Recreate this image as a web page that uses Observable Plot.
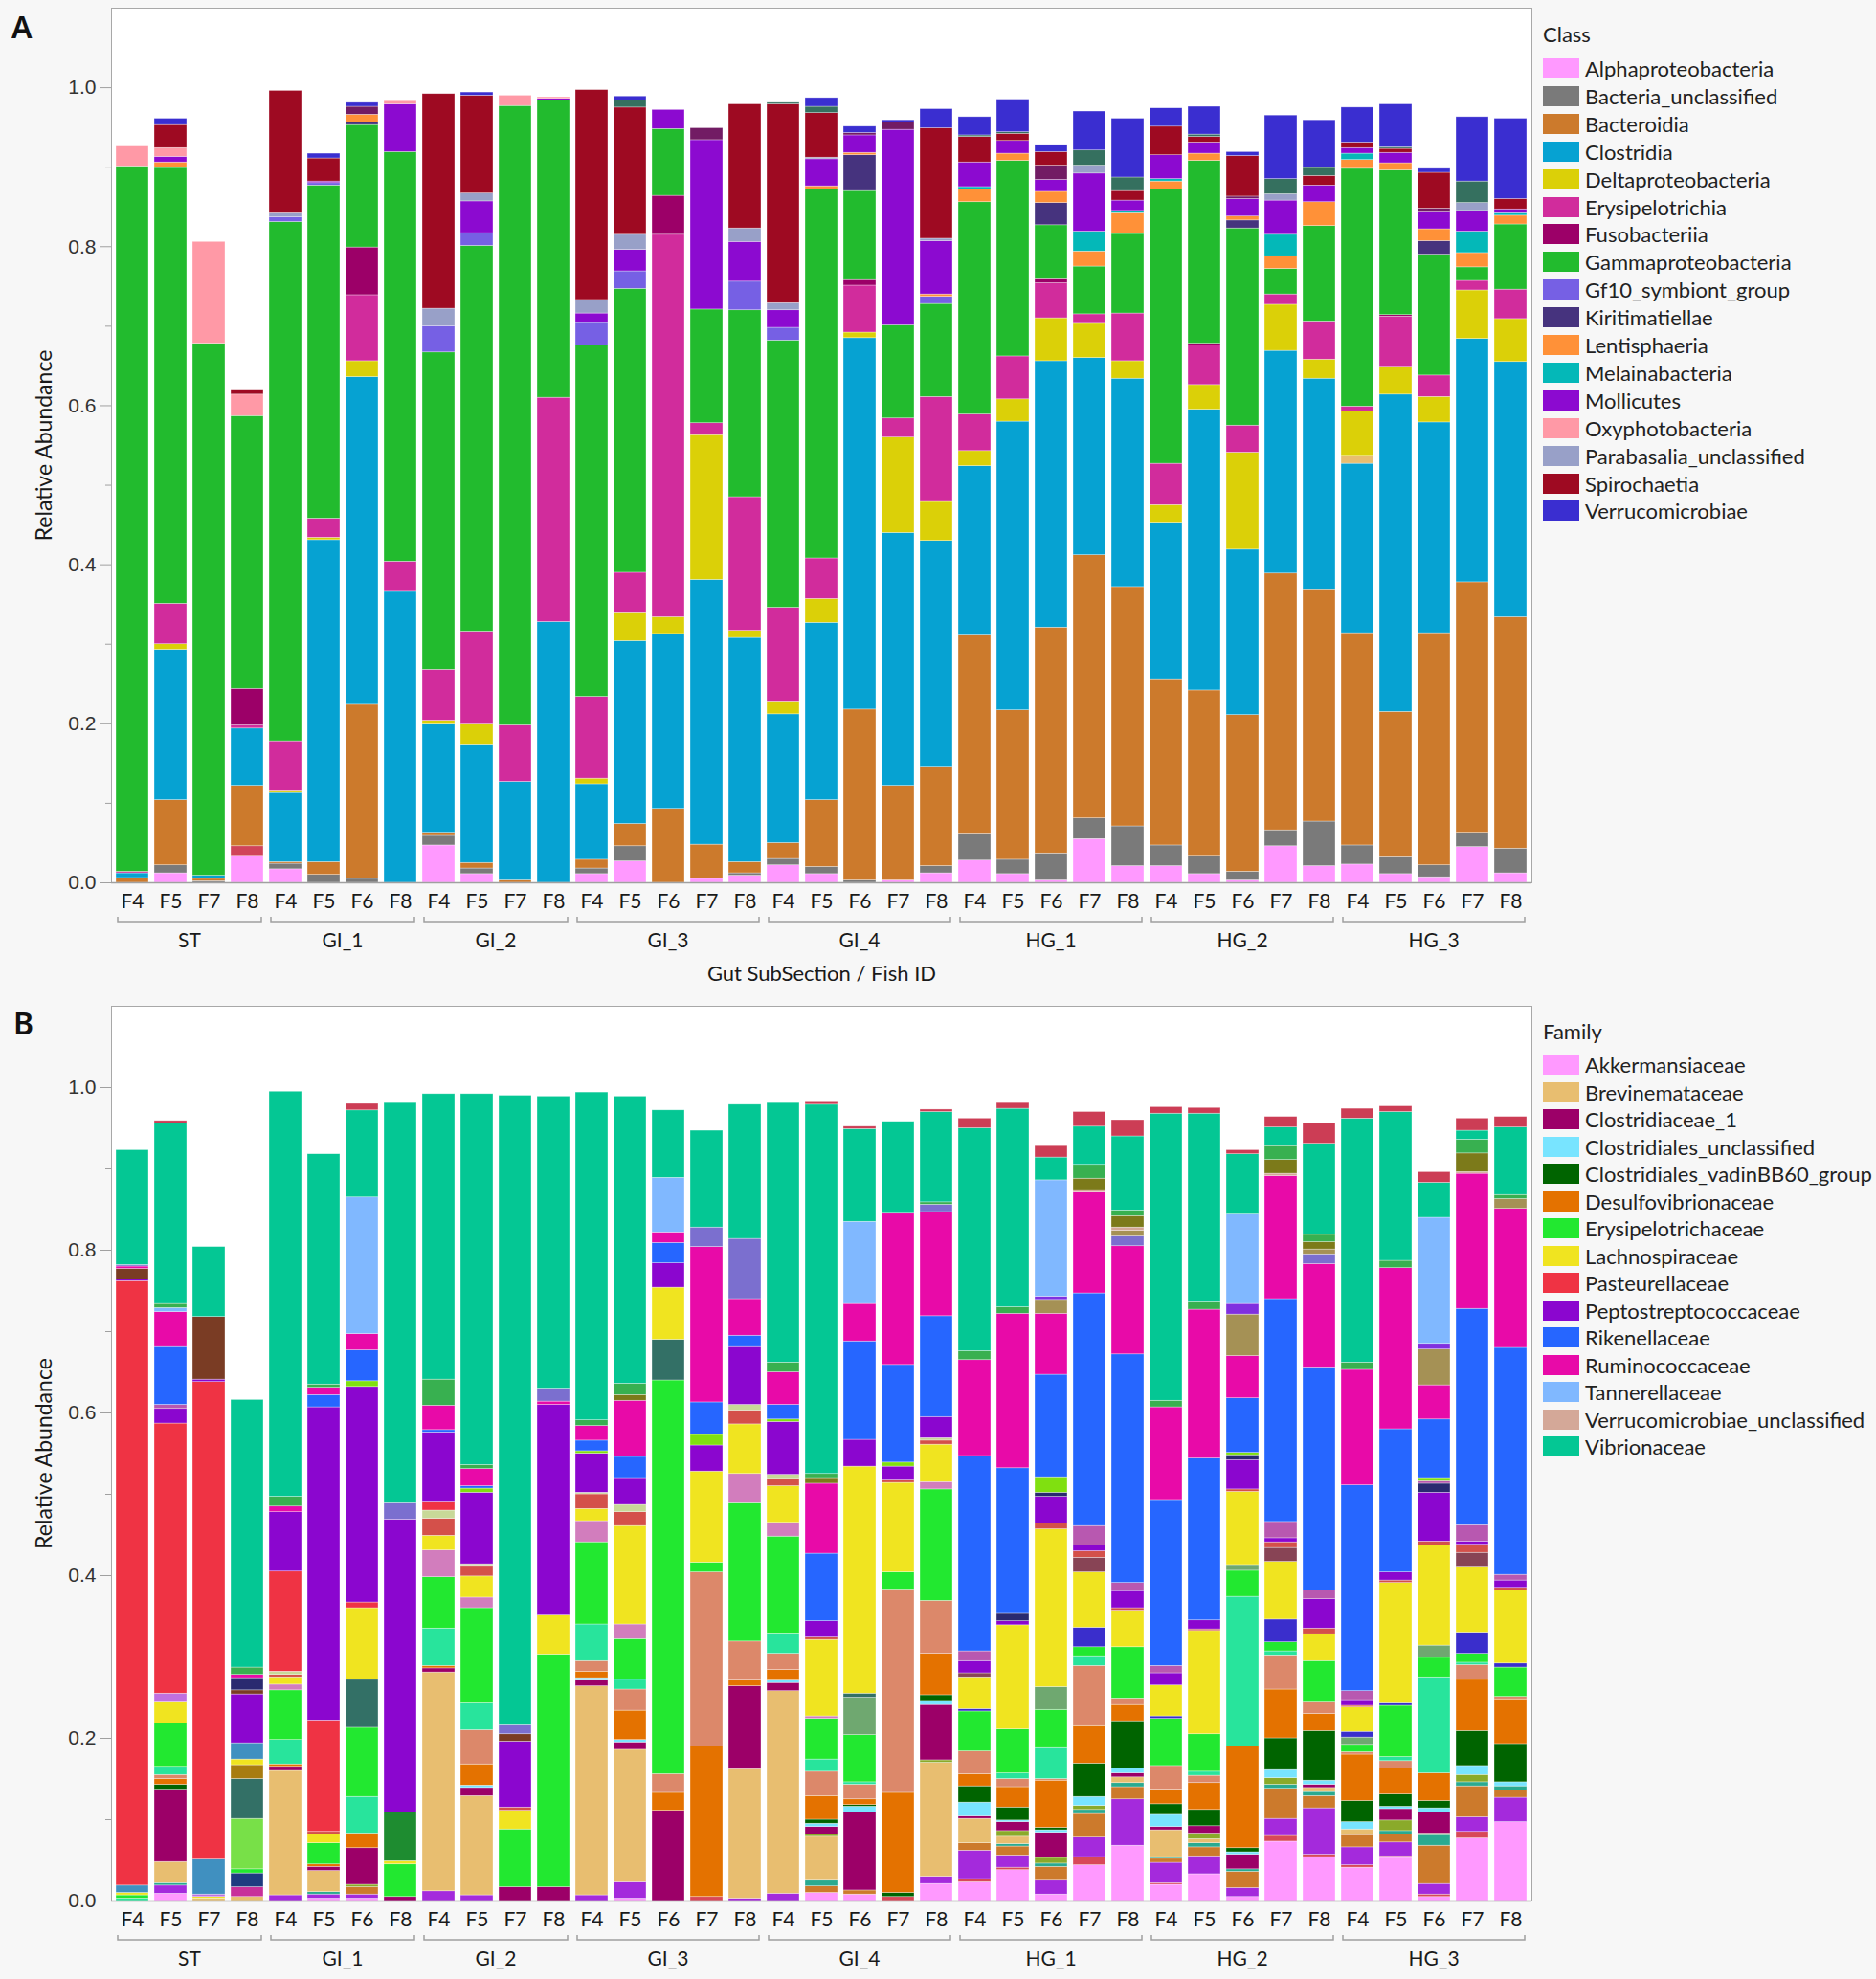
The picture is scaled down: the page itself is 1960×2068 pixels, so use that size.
<!DOCTYPE html>
<html>
<head>
<meta charset="utf-8">
<script src="https://cdn.jsdelivr.net/npm/d3@7"></script>
<script src="https://cdn.jsdelivr.net/npm/@observablehq/plot@0.6"></script>
<style>
  html, body { margin: 0; padding: 0; }
  body { width: 1960px; height: 2068px; background: #f7f7f7; position: relative; overflow: hidden; font-family: Lato, sans-serif; color: #1a1a1a; }
  .panel { position: absolute; left: 0; }
  .tag { position: absolute; font-family: "Noto Sans", sans-serif; font-weight: 600; font-size: 32px; line-height: 32px; color: #111; }
  .legend { position: absolute; left: 1612px; top: 0; }
  .ltitle { position: absolute; left: 0; font-size: 22px; line-height: 28px; white-space: nowrap; color: #222; }
  .lrow { position: absolute; left: 0; height: 28px; white-space: nowrap; }
  .lsw { position: absolute; left: 0; top: 3px; width: 38px; height: 21px; }
  .ltx { position: absolute; left: 44px; top: 0; font-size: 22px; line-height: 28px; color: #222; }
</style>
</head>
<body>
<div class="tag" style="left:12px;top:12px">A</div>
<div class="tag" style="left:14px;top:1053px">B</div>
<div id="plotA" class="panel" style="top:0px"></div>
<div id="plotB" class="panel" style="top:1040px"></div>
<div id="legA" class="legend"></div>
<div id="legB" class="legend"></div>
<script>
// ---------------- shared ----------------
const groupNames = ["ST", "GI_1", "GI_2", "GI_3", "GI_4", "HG_1", "HG_2", "HG_3"];
const yTicks = [0, 0.2, 0.4, 0.6, 0.8, 1.0];
const yMinorTicks = [0.1, 0.3, 0.5, 0.7, 0.9];
const yTitle = "Relative Abundance";
const xTitle = "Gut SubSection / Fish ID";
const labelFont = "Lato";

// ---------------- Panel A : Class ----------------
const classCodes = ["al","bi","bu","bd","cl","bm","de","er","fu","ga","gf","ki","le","me","mo","ox","pb","pl","sp","th","ve"];
const classNames = ["Alphaproteobacteria","Bacilli","Bacteria_unclassified","Bacteroidia","Clostridia","Brevinematae","Deltaproteobacteria","Erysipelotrichia","Fusobacteriia","Gammaproteobacteria","Gf10_symbiont_group","Kiritimatiellae","Lentisphaeria","Melainabacteria","Mollicutes","Oxyphotobacteria","Parabasalia_unclassified","Planctomycetacia","Spirochaetia","Thermoplasmata","Verrucomicrobiae"];
const classColors = ["#ff99ff","#d0445a","#7a7a7a","#cc7a2c","#06a2d2","#e8be70","#dbd008","#d12c9c","#9c0068","#22bb2e","#7660e4","#46337e","#ff9138","#04b8b8","#8c0ad0","#ff99a6","#98a0c8","#721c64","#9e0a22","#35705f","#3a2ed0"];
const classLegend = ["Alphaproteobacteria","Bacteria_unclassified","Bacteroidia","Clostridia","Deltaproteobacteria","Erysipelotrichia","Fusobacteriia","Gammaproteobacteria","Gf10_symbiont_group","Kiritimatiellae","Lentisphaeria","Melainabacteria","Mollicutes","Oxyphotobacteria","Parabasalia_unclassified","Spirochaetia","Verrucomicrobiae"];

const classST = [
  {fish:"F4", bd:.006, cl:.006, er:.002, ga:.887, ox:.025},
  {fish:"F5", al:.012, bu:.010, bd:.082, cl:.189, de:.007, er:.051, ga:.548, le:.007, mo:.007, ox:.011, sp:.029, ve:.008},
  {fish:"F7", bu:.002, bd:.003, cl:.004, ga:.669, ox:.128},
  {fish:"F8", al:.034, bi:.012, bd:.076, cl:.072, er:.004, fu:.046, ga:.343, ox:.027, sp:.005}
];
const classGI1 = [
  {fish:"F4", al:.017, bu:.007, bd:.002, cl:.087, de:.002, er:.063, ga:.653, gf:.006, pb:.005, sp:.154},
  {fish:"F5", bu:.010, bd:.016, cl:.405, de:.003, er:.024, ga:.419, gf:.003, mo:.002, sp:.029, ve:.006},
  {fish:"F6", bu:.005, bd:.219, cl:.412, de:.020, er:.083, fu:.060, ga:.154, ki:.003, le:.010, pl:.010, ve:.005},
  {fish:"F8", cl:.366, er:.038, ga:.515, mo:.060, ox:.004}
];
const classGI2 = [
  {fish:"F4", al:.047, bu:.012, bd:.004, cl:.136, de:.005, er:.064, ga:.399, gf:.033, pb:.022, sp:.270},
  {fish:"F5", al:.011, bu:.007, bd:.007, cl:.149, de:.025, er:.117, ga:.485, gf:.016, mo:.040, pb:.010, sp:.123, ve:.004},
  {fish:"F7", bd:.003, cl:.124, er:.071, ga:.779, ox:.013},
  {fish:"F8", cl:.328, er:.282, ga:.374, mo:.002, ox:.002}
];
const classGI3 = [
  {fish:"F4", al:.011, bu:.007, bd:.011, cl:.095, de:.007, er:.103, ga:.442, gf:.028, mo:.012, pb:.017, sp:.264},
  {fish:"F5", al:.027, bu:.019, bd:.028, cl:.230, de:.035, er:.051, ga:.357, gf:.022, mo:.027, pb:.019, sp:.160, th:.009, ve:.005},
  {fish:"F6", bd:.093, cl:.220, de:.021, er:.481, fu:.049, ga:.084, mo:.024},
  {fish:"F7", al:.005, bd:.043, cl:.333, de:.182, er:.015, ga:.143, mo:.213, pl:.015},
  {fish:"F8", al:.009, bu:.003, bd:.014, cl:.282, de:.009, er:.168, ga:.235, gf:.036, mo:.050, pb:.017, sp:.156}
];
const classGI4 = [
  {fish:"F4", al:.022, bu:.008, bd:.020, cl:.162, de:.015, er:.119, ga:.336, gf:.016, mo:.022, pb:.009, sp:.250, th:.002},
  {fish:"F5", al:.011, bu:.009, bd:.084, cl:.223, de:.030, er:.051, ga:.464, le:.004, mo:.034, pb:.002, sp:.056, th:.008, ve:.011},
  {fish:"F6", bu:.003, bd:.215, cl:.467, de:.007, er:.059, fu:.007, ga:.112, ki:.045, le:.003, mo:.022, pl:.003, ve:.008},
  {fish:"F7", al:.003, bd:.119, cl:.318, de:.120, er:.024, ga:.117, mo:.246, pl:.009, ve:.003},
  {fish:"F8", al:.012, bu:.009, bd:.125, cl:.284, de:.049, er:.132, ga:.117, gf:.009, le:.003, mo:.067, pb:.003, sp:.139, ve:.024}
];
const classHG1 = [
  {fish:"F4", al:.028, bu:.034, bd:.249, cl:.213, de:.019, er:.046, ga:.267, le:.016, me:.003, mo:.031, sp:.032, th:.002, ve:.023},
  {fish:"F5", al:.011, bu:.018, bd:.188, cl:.363, de:.028, er:.054, ga:.246, le:.009, mo:.016, sp:.009, th:.002, ve:.041},
  {fish:"F6", al:.003, bu:.034, bd:.284, cl:.335, de:.054, er:.044, fu:.005, ga:.068, ki:.028, le:.014, mo:.015, pl:.018, sp:.017, ve:.009},
  {fish:"F7", al:.055, bu:.026, bd:.331, cl:.248, de:.043, er:.012, ga:.060, le:.019, me:.025, mo:.073, pb:.010, th:.019, ve:.049},
  {fish:"F8", al:.021, bu:.050, bd:.301, cl:.262, de:.022, er:.060, ga:.100, le:.026, me:.003, mo:.013, sp:.012, th:.017, ve:.074}
];
const classHG2 = [
  {fish:"F4", al:.021, bu:.026, bd:.208, cl:.198, de:.022, er:.052, ga:.345, le:.010, me:.003, mo:.030, sp:.036, ve:.023},
  {fish:"F5", al:.011, bu:.023, bd:.208, cl:.353, de:.031, er:.050, fu:.002, ga:.230, le:.009, mo:.014, sp:.007, th:.003, ve:.035},
  {fish:"F6", al:.003, bu:.011, bd:.197, cl:.208, de:.122, er:.034, ga:.248, ki:.010, le:.005, mo:.022, pl:.003, sp:.051, ve:.005},
  {fish:"F7", al:.046, bu:.020, bd:.323, cl:.280, de:.058, er:.013, ga:.032, le:.016, me:.027, mo:.043, pb:.008, th:.019, ve:.080},
  {fish:"F8", al:.021, bu:.056, bd:.291, cl:.266, de:.024, er:.048, ga:.120, le:.030, mo:.021, sp:.012, th:.010, ve:.060}
];
const classHG3 = [
  {fish:"F4", al:.023, bu:.024, bd:.267, cl:.213, bm:.010, de:.056, er:.006, ga:.299, le:.011, me:.008, mo:.007, sp:.007, ve:.044},
  {fish:"F5", al:.011, bu:.021, bd:.183, cl:.399, de:.035, er:.063, fu:.002, ga:.182, le:.009, mo:.013, sp:.005, th:.002, ve:.054},
  {fish:"F6", al:.007, bu:.015, bd:.292, cl:.265, de:.032, er:.027, ga:.152, ki:.017, le:.015, mo:.021, pl:.005, sp:.045, ve:.005},
  {fish:"F7", al:.045, bu:.018, bd:.315, cl:.306, de:.061, er:.012, ga:.017, le:.018, me:.027, mo:.026, pb:.010, th:.027, ve:.081},
  {fish:"F8", al:.012, bu:.031, bd:.291, cl:.321, de:.054, er:.037, ga:.082, le:.011, me:.003, mo:.005, sp:.013, ve:.101}
];

// ---------------- Panel B : Family ----------------
const famCodes = ["ak","ae","an","bc","bn","br","co","ch","c1","cu","cv","df","de","dy","en","er","lg","fx","dt","gd","or","bv","la","lu","lp","dg","mb","rs","pk","pa","pe","bw","nv","o2","li","ri","ru","lv","kh","pp","tn","vu","ol","gr","vi","tr"];
const famNames = ["Akkermansiaceae","Aeromonadaceae","Anaeroplasmataceae","Bacteroidaceae","Barnesiellaceae","Brevinemataceae","Coriobacteriaceae","Christensenellaceae","Clostridiaceae_1","Clostridiales_unclassified","Clostridiales_vadinBB60_group","Deferribacteraceae","Desulfovibrionaceae","Dysgonomonadaceae","Enterobacteriaceae","Erysipelotrichaceae","Family_XI","Family_XIII","Fusobacteriaceae","Gracilibacteraceae","Izimaplasmataceae","Kiritimatiellaceae","Lachnospiraceae","Lachnospiraceae_unclassified","Lactobacillaceae","Leptotrichiaceae","Moraxellaceae","Mycoplasmataceae","Neisseriaceae","Pasteurellaceae","Peptostreptococcaceae","Pirellulaceae","Prevotellaceae","Puniceicoccaceae","Rhodobacteraceae","Rikenellaceae","Ruminococcaceae","Spirochaetaceae","Streptococcaceae","Synergistaceae","Tannerellaceae","Verrucomicrobiae_unclassified","Victivallaceae","Weeksellaceae","Vibrionaceae","uncultured"];
const famColors = ["#ff99ff","#d84858","#a42adc","#cc7a2c","#2aaa90","#e8be70","#c8309a","#8aaa2a","#9c0068","#78e4ff","#006400","#1e3c80","#e47200","#dc886a","#28e49c","#22e830","#78e048","#6fa870","#337066","#a87c10","#d27dbd","#3a2ecc","#f0e420","#884455","#c070e0","#1e8c30","#4090c0","#d4504a","#c8d898","#ef3344","#8b06cf","#7a3c24","#2a2a70","#b858b0","#80e010","#2666ff","#e80aa8","#7b6fcf","#a59155","#8030e0","#80b8ff","#d4a898","#7c7a1a","#38b050","#04c794","#cc3d55"];
const famLegend = ["Akkermansiaceae","Brevinemataceae","Clostridiaceae_1","Clostridiales_unclassified","Clostridiales_vadinBB60_group","Desulfovibrionaceae","Erysipelotrichaceae","Lachnospiraceae","Pasteurellaceae","Peptostreptococcaceae","Rikenellaceae","Ruminococcaceae","Tannerellaceae","Verrucomicrobiae_unclassified","Vibrionaceae"];

const familyST = [
  {fish:"F4", en:.003, er:.004, la:.003, mb:.009, pa:.743, pe:.002, bw:.013, ru:.003, lv:.002, vi:.141},
  {fish:"F5", ak:.009, an:.010, bn:.003, br:.026, c1:.089, cv:.006, de:.007, dy:.005, en:.010, er:.053, la:.026, lp:.011, pa:.332, pe:.018, o2:.005, ri:.071, ru:.043, tn:.005, gr:.005, vi:.222, tr:.003},
  {fish:"F7", br:.003, la:.002, lp:.003, mb:.043, pa:.587, pe:.003, bw:.077, vi:.086},
  {fish:"F8", br:.005, co:.012, df:.017, er:.005, lg:.062, dt:.049, gd:.017, la:.007, mb:.020, pe:.060, bw:.005, nv:.015, ru:.004, gr:.009, vi:.329}
];
const familyGI1 = [
  {fish:"F4", an:.007, br:.153, c1:.005, de:.003, en:.030, er:.061, or:.007, la:.009, rs:.003, pk:.004, pa:.123, pe:.073, ru:.007, gr:.012, vi:.498},
  {fish:"F5", ak:.003, an:.005, bn:.003, br:.026, c1:.005, de:.003, er:.026, la:.011, rs:.003, pa:.137, pe:.385, ri:.015, ru:.009, gr:.004, vi:.283},
  {fish:"F6", ak:.003, an:.005, bc:.009, ch:.003, c1:.045, de:.018, en:.045, er:.085, dt:.059, la:.088, pa:.007, pe:.265, li:.007, ri:.038, ru:.020, tn:.168, vi:.107, tr:.008},
  {fish:"F8", c1:.005, er:.040, la:.004, dg:.060, pe:.360, lv:.020, vi:.492}
];
const familyGI2 = [
  {fish:"F4", an:.012, br:.269, c1:.005, de:.003, en:.046, er:.063, or:.033, la:.018, rs:.021, pk:.010, pa:.010, pe:.086, ri:.003, ru:.030, gr:.032, vi:.351},
  {fish:"F5", an:.007, br:.122, c1:.010, cu:.003, de:.026, dy:.042, en:.033, er:.117, or:.013, la:.026, rs:.013, pk:.002, pe:.088, li:.005, ri:.003, ru:.021, gr:.005, vi:.456},
  {fish:"F7", c1:.017, er:.071, la:.023, rs:.004, pe:.081, bw:.009, lv:.011, vi:.774},
  {fish:"F8", c1:.017, er:.286, la:.048, pe:.259, ru:.004, lv:.016, vi:.359}
];
const familyGI3 = [
  {fish:"F4", an:.007, br:.257, c1:.007, cu:.003, de:.008, dy:.013, en:.045, er:.101, or:.026, la:.015, rs:.018, pk:.002, pe:.048, li:.003, ri:.013, ru:.018, gr:.007, vi:.403},
  {fish:"F5", ak:.003, an:.020, br:.163, c1:.009, cu:.003, de:.036, dy:.026, en:.012, er:.050, or:.018, la:.121, rs:.017, pk:.009, pe:.033, ri:.026, ru:.069, ol:.007, gr:.014, vi:.353},
  {fish:"F6", c1:.111, de:.022, dy:.023, er:.484, dt:.050, la:.064, pe:.030, ri:.025, ru:.013, tn:.067, vi:.083},
  {fish:"F7", ae:.005, de:.185, dy:.214, er:.012, la:.112, pe:.032, li:.013, ri:.040, ru:.191, lv:.024, vi:.119},
  {fish:"F8", an:.003, br:.159, c1:.102, de:.007, dy:.048, er:.170, or:.036, la:.061, rs:.017, pk:.007, pe:.071, ri:.014, ru:.045, lv:.074, vi:.165}
];
const familyGI4 = [
  {fish:"F4", an:.009, br:.249, c1:.010, cu:.003, de:.013, dy:.020, en:.025, er:.119, or:.017, la:.045, rs:.009, pk:.005, pe:.065, li:.003, ri:.018, ru:.040, gr:.012, vi:.319},
  {fish:"F5", ak:.010, bc:.008, bn:.007, br:.054, ch:.003, c1:.009, cu:.004, cv:.005, de:.029, dy:.030, en:.015, er:.050, or:.003, la:.094, rs:.003, pe:.020, ri:.083, ru:.086, ol:.007, gr:.005, vi:.454, tr:.003},
  {fish:"F6", ak:.008, bc:.005, c1:.096, cu:.007, cv:.002, de:.007, dy:.018, en:.003, er:.058, fx:.046, dt:.005, la:.279, pe:.033, ri:.121, ru:.046, tn:.101, vi:.114, tr:.003},
  {fish:"F7", ae:.005, cv:.005, de:.123, dy:.250, er:.021, la:.110, rs:.003, pe:.017, li:.005, ri:.120, ru:.186, vi:.113},
  {fish:"F8", ak:.021, an:.009, br:.140, ch:.003, c1:.068, cu:.005, cv:.007, de:.051, dy:.065, er:.137, or:.009, la:.046, rs:.005, pk:.003, pe:.026, ri:.124, ru:.128, lv:.009, gr:.003, vi:.111, tr:.003}
];
const familyHG1 = [
  {fish:"F4", ak:.023, ae:.004, an:.035, bc:.009, br:.030, c1:.003, cu:.017, cv:.020, de:.015, dy:.028, er:.049, bv:.003, la:.039, lu:.005, pe:.015, o2:.012, ri:.240, ru:.118, gr:.011, vi:.274, tr:.012},
  {fish:"F5", ak:.038, ae:.003, an:.015, bc:.011, bn:.003, br:.009, ch:.007, c1:.011, cu:.002, cv:.016, de:.025, dy:.010, en:.007, er:.054, la:.128, pe:.005, nv:.009, ri:.179, ru:.190, gr:.008, vi:.244, tr:.007},
  {fish:"F6", ak:.008, an:.017, bc:.017, bn:.004, ch:.007, c1:.031, cu:.003, cv:.003, de:.058, dy:.002, en:.038, er:.047, fx:.028, la:.194, rs:.007, pe:.033, nv:.005, li:.019, ri:.126, ru:.075, kh:.017, pp:.004, tn:.143, vi:.028, tr:.014},
  {fish:"F7", ak:.044, ae:.010, an:.024, bc:.029, bn:.005, ch:.005, cu:.011, cv:.041, de:.046, dy:.074, en:.012, er:.011, bv:.024, la:.068, lu:.018, rs:.008, pe:.007, o2:.024, ri:.286, ru:.124, vu:.003, ol:.014, gr:.017, vi:.047, tr:.018},
  {fish:"F8", ak:.068, an:.057, bc:.015, bn:.005, br:.007, c1:.005, cu:.006, cv:.058, de:.020, dy:.008, er:.063, la:.045, rs:.003, pe:.021, o2:.010, ri:.281, ru:.133, lv:.012, kh:.007, vu:.004, ol:.014, gr:.007, vi:.091, tr:.020}
];
const familyHG2 = [
  {fish:"F4", ak:.020, ae:.002, an:.025, bc:.005, bn:.002, br:.033, c1:.004, cu:.015, cv:.013, de:.018, dy:.029, er:.058, bv:.003, la:.038, pe:.015, o2:.009, ri:.204, ru:.114, gr:.008, vi:.353, tr:.008},
  {fish:"F5", ak:.033, an:.022, bc:.011, bn:.005, br:.005, ch:.007, c1:.009, cv:.020, de:.033, dy:.009, en:.005, er:.046, la:.127, rs:.002, pe:.011, ri:.199, ru:.183, gr:.009, vi:.232, tr:.007},
  {fish:"F6", ak:.005, an:.011, bc:.020, bn:.003, c1:.018, cu:.003, cv:.005, de:.125, en:.184, er:.032, fx:.007, la:.090, rs:.003, pe:.036, nv:.006, li:.003, ri:.067, ru:.052, kh:.051, pp:.013, tn:.110, vi:.074, tr:.005},
  {fish:"F7", ak:.073, ae:.007, an:.021, bc:.037, bn:.005, ch:.008, cu:.010, cv:.039, de:.060, dy:.042, en:.005, er:.011, bv:.028, la:.071, lu:.017, rs:.007, pe:.005, o2:.020, ri:.274, ru:.151, vu:.003, ol:.017, gr:.017, vi:.023, tr:.013},
  {fish:"F8", ak:.054, ae:.003, an:.057, bc:.015, bn:.005, br:.005, c1:.004, cu:.005, cv:.061, de:.021, dy:.014, er:.051, la:.033, rs:.007, pe:.036, o2:.011, ri:.274, ru:.127, lv:.012, kh:.006, ol:.009, gr:.009, vi:.112, tr:.025}
];
const familyHG3 = [
  {fish:"F4", ak:.041, ae:.003, an:.022, bc:.015, br:.007, cu:.009, cv:.026, de:.057, dy:.003, er:.009, fx:.009, bv:.007, la:.030, rs:.002, pe:.007, o2:.011, ri:.253, ru:.142, gr:.009, vi:.300, tr:.012},
  {fish:"F5", ak:.053, ae:.002, an:.017, bc:.010, bn:.004, ch:.013, c1:.014, cu:.003, cv:.015, de:.032, dy:.009, en:.005, er:.063, bv:.003, la:.148, rs:.003, pe:.010, ri:.176, ru:.198, gr:.009, vi:.183, tr:.007},
  {fish:"F6", ak:.005, ae:.003, an:.013, bc:.047, bn:.013, ch:.002, c1:.026, cu:.005, cv:.009, de:.034, en:.118, er:.024, fx:.015, la:.123, rs:.005, pe:.060, nv:.011, li:.004, o2:.003, ri:.072, ru:.042, kh:.044, pp:.007, tn:.155, vi:.043, tr:.013},
  {fish:"F7", ak:.077, ae:.008, an:.018, bc:.038, bn:.005, ch:.009, cu:.011, cv:.043, de:.063, dy:.018, en:.003, er:.011, bv:.026, la:.081, lu:.017, rs:.010, pe:.004, o2:.020, ri:.266, ru:.166, vu:.002, ol:.023, gr:.017, vi:.011, tr:.015},
  {fish:"F8", ak:.097, an:.030, bc:.009, bn:.005, cu:.005, cv:.047, de:.055, dy:.003, er:.036, bv:.005, la:.090, rs:.003, pe:.009, o2:.007, ri:.279, ru:.171, kh:.012, gr:.005, vi:.083, tr:.013}
];

// ---------------- build ----------------
function buildRows(groupArrays, codes, names) {
  const rows = [], bars = [];
  groupArrays.forEach((arr, gi) => arr.forEach(d => {
    const key = groupNames[gi] + " " + d.fish;
    bars.push({key, group: groupNames[gi], fish: d.fish});
    codes.forEach((c, ci) => { if (d[c]) rows.push({bar: key, cat: names[ci], value: d[c]}); });
  }));
  return {rows, bars};
}

function groupBrackets(bars) {
  const groups = d3.groups(bars, d => d.group).map(([g, bs]) => ({g, first: bs[0].key, last: bs[bs.length - 1].key}));
  return (index, scales, values, dims) => {
    const x = scales.x;
    const bw = x.bandwidth ? x.bandwidth() : 0;
    const y0 = dims.height - dims.marginBottom;
    const g = d3.create("svg:g");
    for (const gr of groups) {
      const a = x(gr.first) + 2, b = x(gr.last) + bw - 2;
      g.append("path")
        .attr("d", `M${a},${y0 + 36}V${y0 + 41}H${b}V${y0 + 36}`)
        .attr("fill", "none").attr("stroke", "#a0a0a0").attr("stroke-width", 1.5);
      g.append("text")
        .attr("x", (a + b) / 2).attr("y", y0 + 61).attr("dy", "0.35em")
        .attr("text-anchor", "middle")
        .attr("font-family", labelFont).attr("font-size", 21).attr("fill", "#1a1a1a")
        .text(gr.g);
    }
    return g.node();
  };
}

function panel({rows, bars}, order, colors, height, marginTop, marginBottom, withXTitle) {
  return Plot.plot({
    width: 1960, height, marginLeft: 116, marginRight: 360, marginTop, marginBottom,
    style: {background: "none", fontFamily: "Liberation Sans", fontSize: "21px", color: "#333", overflow: "visible"},
    x: {type: "band", domain: bars.map(b => b.key), paddingInner: 0.15, paddingOuter: 0.05, axis: null},
    y: {domain: [0, 1.1], axis: null},
    color: {domain: order, range: colors},
    marks: [
      Plot.frame({fill: "white", stroke: "#a8a8a8"}),
      Plot.barY(rows, {x: "bar", y: "value", fill: "cat", order, stroke: "white", strokeWidth: 0.6, strokeOpacity: 0.55}),
      Plot.ruleY([0], {stroke: "#a0a0a0", strokeWidth: 1.5}),
      Plot.axisY(yTicks, {tickSize: 11, tickPadding: 5, tickFormat: d3.format(".1f"), label: null, stroke: "#a0a0a0", fill: "#333", fontSize: 21, fontFamily: "Liberation Sans"}),
      Plot.axisY(yMinorTicks, {tickSize: 6, tickFormat: () => "", label: null, stroke: "#a0a0a0"}),
      Plot.text(bars, {x: "key", text: "fish", frameAnchor: "bottom", lineAnchor: "middle", dy: 20, fontFamily: labelFont, fontSize: 21, fill: "#1a1a1a"}),
      Plot.text([yTitle], {text: d => d, frameAnchor: "left", textAnchor: "middle", lineAnchor: "middle", dx: -70, rotate: -90, fontFamily: labelFont, fontSize: 23, fill: "#1a1a1a"}),
      withXTitle ? Plot.text([xTitle], {text: d => d, frameAnchor: "bottom", lineAnchor: "middle", dy: 95, fontFamily: labelFont, fontSize: 22, fill: "#1a1a1a"}) : null,
      groupBrackets(bars)
    ]
  });
}

function legend(el, title, names, allNames, allColors, titleCenter, firstCenter, step) {
  const t = document.createElement("div");
  t.className = "ltitle"; t.textContent = title; t.style.top = (titleCenter - 14) + "px";
  el.appendChild(t);
  names.forEach((n, i) => {
    const row = document.createElement("div");
    row.className = "lrow"; row.style.top = (firstCenter + i * step - 14) + "px";
    const sw = document.createElement("div");
    sw.className = "lsw"; sw.style.background = allColors[allNames.indexOf(n)];
    const tx = document.createElement("div");
    tx.className = "ltx"; tx.textContent = n;
    row.appendChild(sw); row.appendChild(tx);
    el.appendChild(row);
  });
}

const dataA = buildRows([classST, classGI1, classGI2, classGI3, classGI4, classHG1, classHG2, classHG3], classCodes, classNames);
const dataB = buildRows([familyST, familyGI1, familyGI2, familyGI3, familyGI4, familyHG1, familyHG2, familyHG3], famCodes, famNames);

document.getElementById("plotA").appendChild(panel(dataA, classNames, classColors, 1040, 8, 118, true));
document.getElementById("plotB").appendChild(panel(dataB, famNames, famColors, 1028, 11, 82, false));

legend(document.getElementById("legA"), "Class", classLegend, classNames, classColors, 36, 72, 28.9);
legend(document.getElementById("legB"), "Family", famLegend, famNames, famColors, 1078, 1113, 28.5);
</script>
</body>
</html>
